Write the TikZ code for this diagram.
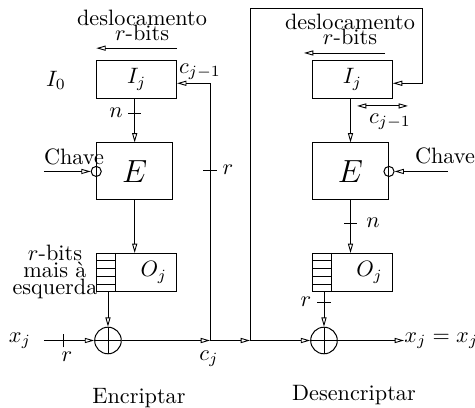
\documentclass[tikz,border=0pt]{standalone}
\usepackage{fontspec}
\usepackage{amsmath}
\usetikzlibrary{arrows.meta, positioning, calc}

\begin{document}
\begin{tikzpicture}[
  caixa/.style={rectangle, draw, line width=0.45pt, inner sep=0pt,
                minimum width=1.26cm, minimum height=0.60cm},
  cifra/.style={rectangle, draw, line width=0.45pt, inner sep=0pt,
                minimum width=1.20cm, minimum height=0.90cm, font=\Large},
  xorno/.style={circle, draw, line width=0.45pt, minimum size=0.42cm, inner sep=0pt,
                path picture={\draw[line width=0.4pt]
                  (path picture bounding box.north) -- (path picture bounding box.south)
                  (path picture bounding box.west) -- (path picture bounding box.east);}},
  porta/.style={circle, draw, line width=0.45pt, minimum size=0.16cm, inner sep=0pt},
  seta/.style={-{Triangle[open, length=4.2pt, width=2.3pt]}, line width=0.4pt},
  duplaseta/.style={{Triangle[open, length=4.2pt, width=2.3pt]}-{Triangle[open, length=4.2pt, width=2.3pt]},
                line width=0.4pt},
  linha/.style={line width=0.4pt},
  pilha/.style={align=center, inner sep=1pt}
]
\useasboundingbox (0,0) rectangle (7.505,6.446);

% === Encriptar ===
\node[caixa] (IjE) at (2.160,5.190) {$I_j$};
\node[cifra] (EE)  at (2.128,3.737) {$E$};
\node[caixa] (OjE) at (2.160,2.141) {};
\node (OjEt) at ($(OjE)+(0.27,0)$) {$O_j$};
\node[xorno] (xorE) at (1.706,1.066) {};

\draw[linha] ($(OjE.north west)+(0.30,0)$) -- ($(OjE.south west)+(0.30,0)$);
\foreach \k in {1,...,4}
  \draw[linha] ($(OjE.north west)!\k/5!(OjE.south west)$) -- ++(0.30,0);

\node (I0) at (0.885,5.174) {$I_0$};
\node[pilha] (desE) at (2.244,6.044) {deslocamento\\[-5pt]$r$-bits};
\draw[seta] ($(IjE.north east)+(0,0.187)$) -- ($(IjE.north west)+(0,0.187)$);
\node[pilha] (rbE) at (0.869,2.149) {$r$-bits\\[-4.4pt]mais à\\[-4.4pt]esquerda};

\draw[seta] (EE |- IjE.south) -- (EE.north);
\draw[linha] (2.028,4.661) -- ++(0.2,0);
\node (nE) at (1.833,4.661) {$n$};
\draw[seta] (EE.south) -- (EE |- OjE.north);
\draw[seta] (xorE |- OjE.south) -- (xorE.north);

\node[porta] (chE) at (EE.west) {};
\coordinate (chaveE) at (0.695,3.737);
\draw[seta] (chaveE) -- (chE.west);
\node (chtE) at (1.169,3.966) {Chave};

\node (xjE) at (0.316,1.066) {$x_j$};
\coordinate (xin) at (0.695,1.066);
\draw[seta] (xin) -- (xorE.west);
\draw[linha] (0.995,0.956) -- ++(0,0.22);
\node (rxE) at (1.059,0.806) {$r$};

% === Desencriptar ===
\node[caixa] (IjD) at (5.570,5.190) {$I_j$};
\node[cifra] (ED)  at (5.538,3.737) {$E$};
\node[caixa] (OjD) at (5.570,2.141) {};
\node (OjDt) at ($(OjD)+(0.27,0)$) {$O_j$};
\node[xorno] (xorD) at (5.119,1.066) {};

\draw[linha] ($(OjD.north west)+(0.30,0)$) -- ($(OjD.south west)+(0.30,0)$);
\foreach \k in {1,...,4}
  \draw[linha] ($(OjD.north west)!\k/5!(OjD.south west)$) -- ++(0.30,0);

\node[pilha] (desD) at (5.530,5.980) {deslocamento\\[-5pt]$r$-bits};
\coordinate (dDa) at (6.083,5.609);
\coordinate (dDb) at (4.803,5.609);
\draw[seta] (dDa) -- (dDb);
\coordinate (cDa) at (5.641,4.772);
\coordinate (cDb) at (6.446,4.772);
\draw[duplaseta] (cDa) -- (cDb);
\node (cj1D) at (6.162,4.519) {$c_{j-1}$};

\draw[seta] (ED |- IjD.south) -- (ED.north);
\draw[seta] (ED.south) -- (ED |- OjD.north);
\draw[linha] (5.438,2.923) -- ++(0.2,0);
\node (nD) at (5.893,2.923) {$n$};

\node[porta] (chD) at (ED.east) {};
\coordinate (chaveD) at (7.078,3.737);
\draw[seta] (chaveD) -- (chD.east);
\node (chtD) at (7.031,3.982) {Chave};

\draw[seta] (xorD |- OjD.south) -- (xorD.north);
\draw[linha] (5.009,1.675) -- ++(0.22,0);
\node (rxD) at (4.835,1.675) {$r$};
\node[anchor=west, inner sep=0pt] (xsai) at (6.383,1.066) {$x_j = x_j$};
\draw[seta] (xorD.east) -- (xsai.west);

% === ligacao c_j ===
\coordinate (cj) at (3.318,1.066);
\coordinate (meio) at (3.950,1.066);
\coordinate (topo) at (6.668,6.320);
\draw[seta] (xorE.east) -- (cj);
\node (cjt) at (3.302,0.774) {$c_j$};
\draw[seta] (cj) |- ($(IjE.east)+(0,-0.06)$);
\node (cj1E) at (3.160,5.309) {$c_{j-1}$};
\draw[linha] (3.208,3.760) -- ++(0.22,0);
\node (rfE) at (3.602,3.760) {$r$};
\draw[seta] (cj) -- (meio);
\draw[seta] (meio) -- (xorD.west);
\draw[seta] (meio) |- (topo) |- ($(IjD.east)+(0,-0.06)$);

% === titulos ===
\node (encr) at (2.196,0.158) {Encriptar};
\node (desc) at (5.593,0.205) {Desencriptar};

\end{tikzpicture}
\end{document}
